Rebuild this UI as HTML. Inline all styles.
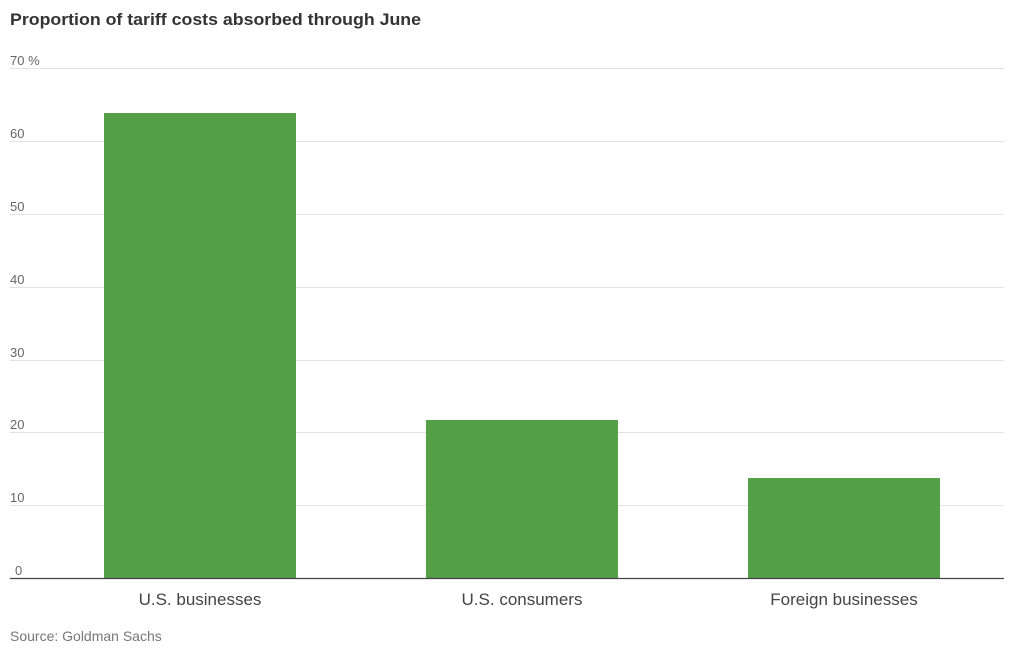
<!DOCTYPE html>
<html><head><style>
body{margin:0;width:1024px;height:650px;background:#fff;overflow:hidden;font-family:"Liberation Sans",sans-serif}
</style></head><body>
<svg width="1024" height="650" xmlns="http://www.w3.org/2000/svg" font-family="Liberation Sans, sans-serif">
<text x="10" y="25" font-size="17" font-weight="bold" fill="#333" textLength="411" lengthAdjust="spacingAndGlyphs">Proportion of tariff costs absorbed through June</text>
<g stroke="#e2e2e2" stroke-width="1">
<line x1="10" x2="1004" y1="68.5" y2="68.5"/>
<line x1="10" x2="1004" y1="141.5" y2="141.5"/>
<line x1="10" x2="1004" y1="214.5" y2="214.5"/>
<line x1="10" x2="1004" y1="287.5" y2="287.5"/>
<line x1="10" x2="1004" y1="360.5" y2="360.5"/>
<line x1="10" x2="1004" y1="432.5" y2="432.5"/>
<line x1="10" x2="1004" y1="505.5" y2="505.5"/>
</g>
<g font-size="13" fill="#666">
<text x="10" y="65">70 %</text>
<text x="10" y="138">60</text>
<text x="10" y="211">50</text>
<text x="10" y="284">40</text>
<text x="10" y="357">30</text>
<text x="10" y="429">20</text>
<text x="10" y="502">10</text>
<text x="15" y="575">0</text>
</g>
<g fill="#53a047">
<rect x="104" y="113" width="192" height="465"/>
<rect x="426" y="420" width="192" height="158"/>
<rect x="748" y="478" width="192" height="100"/>
</g>
<line x1="10" x2="1004" y1="578.5" y2="578.5" stroke="#444" stroke-width="1.3"/>
<g font-size="17" fill="#444" text-anchor="middle">
<text x="200" y="605">U.S. businesses</text>
<text x="522" y="605">U.S. consumers</text>
<text x="844" y="605">Foreign businesses</text>
</g>
<text x="10" y="641" font-size="14" fill="#777">Source: Goldman Sachs</text>
</svg>
</body></html>
